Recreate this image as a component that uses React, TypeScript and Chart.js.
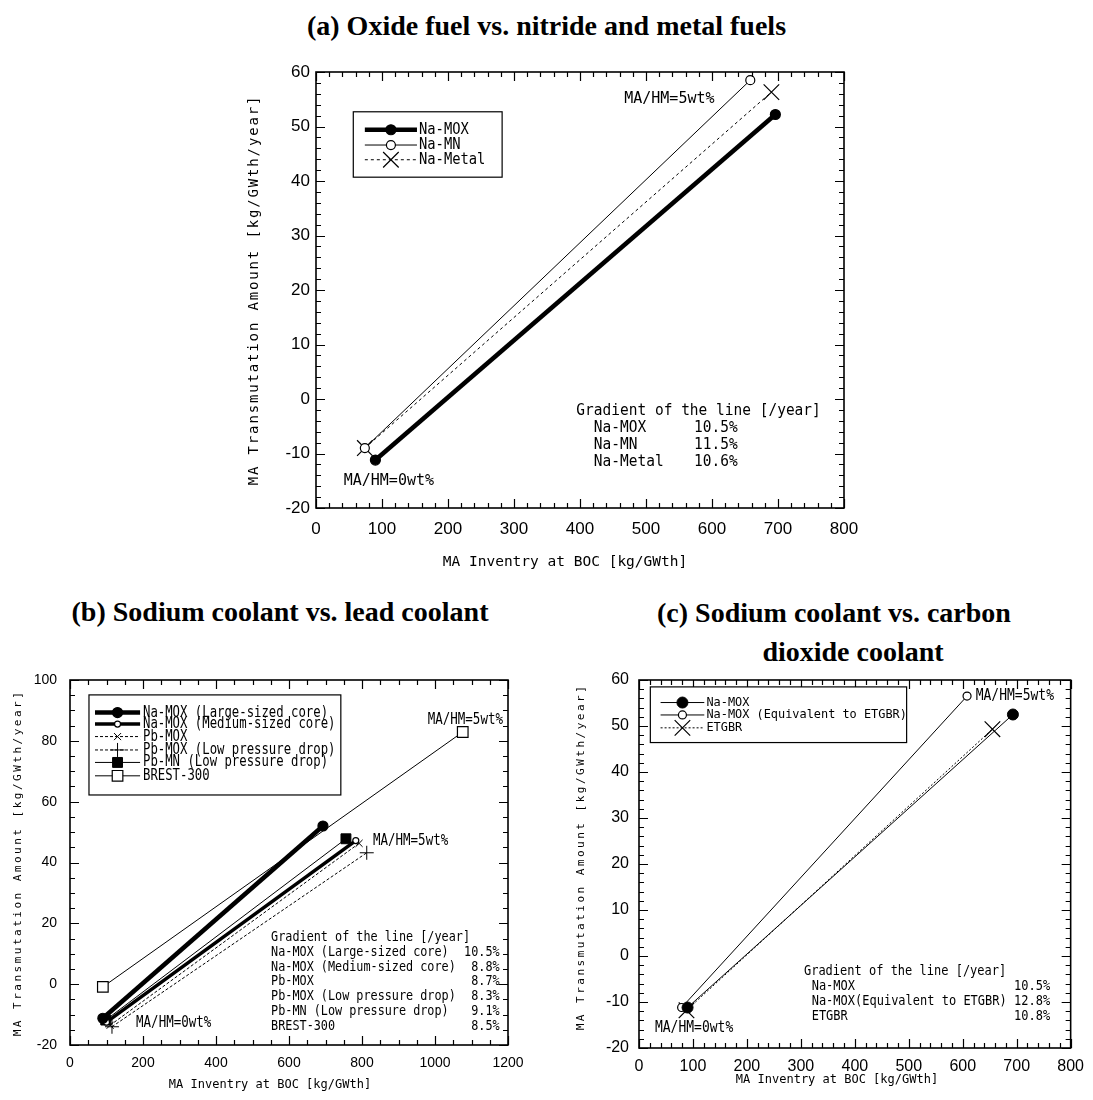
import React, { useEffect, useRef } from 'react';
import { Chart, registerables } from 'chart.js';
import { drawPoint } from 'chart.js/helpers';

Chart.register(...registerables);

const MONO = '"DejaVu Sans Mono", "Liberation Mono", monospace';
const SANS = '"Liberation Sans", Arial, sans-serif';
const SERIF = '"Liberation Serif", "Times New Roman", serif';

// ---------------- (a) Oxide fuel vs. nitride and metal fuels ----------------
const aXTicks = [0, 100, 200, 300, 400, 500, 600, 700, 800];
const aYTicks = [-20, -10, 0, 10, 20, 30, 40, 50, 60];
const aNames = ['Na-MOX', 'Na-MN', 'Na-Metal'];
const aNaMOXx = [90, 696];
const aNaMOXy = [-11.2, 52.2];
const aNaMNx = [74, 658];
const aNaMNy = [-9.0, 58.5];
const aNaMetalx = [74, 690];
const aNaMetaly = [-9.0, 56.3];
const aGradLabels = ['Na-MOX', 'Na-MN', 'Na-Metal'];
const aGradValues = ['10.5%', '11.5%', '10.6%'];
const aNotes = ['MA/HM=5wt%', 'MA/HM=0wt%'];

// ---------------- (b) Sodium coolant vs. lead coolant ----------------
const bXTicks = [0, 200, 400, 600, 800, 1000, 1200];
const bYTicks = [-20, 0, 20, 40, 60, 80, 100];
const bNames = [
  'Na-MOX (Large-sized core)',
  'Na-MOX (Medium-sized core)',
  'Pb-MOX',
  'Pb-MOX (Low pressure drop)',
  'Pb-MN (Low pressure drop)',
  'BREST-300',
];
const bNaMOXLx = [90, 693];
const bNaMOXLy = [-11.2, 52.0];
const bNaMOXMx = [100, 783];
const bNaMOXMy = [-12.5, 47.2];
const bPbMOXx = [110, 792];
const bPbMOXy = [-13.5, 46.3];
const bPbMOXLPx = [115, 813];
const bPbMOXLPy = [-14.0, 43.2];
const bPbMNx = [98, 756];
const bPbMNy = [-11.8, 47.8];
const bBRESTx = [90, 1076];
const bBRESTy = [-0.9, 82.9];
const bGradLabels = bNames;
const bGradValues = ['10.5%', '8.8%', '8.7%', '8.3%', '9.1%', '8.5%'];
const bNotes = ['MA/HM=5wt%', 'MA/HM=5wt%', 'MA/HM=0wt%'];

// ---------------- (c) Sodium coolant vs. carbon dioxide coolant ----------------
const cXTicks = [0, 100, 200, 300, 400, 500, 600, 700, 800];
const cYTicks = [-20, -10, 0, 10, 20, 30, 40, 50, 60];
const cNames = ['Na-MOX', 'Na-MOX (Equivalent to ETGBR)', 'ETGBR'];
const cNaMOXx = [90, 693];
const cNaMOXy = [-11.2, 52.5];
const cNaMOXEqx = [79, 608];
const cNaMOXEqy = [-11.2, 56.5];
const cETGBRx = [88, 655];
const cETGBRy = [-11.8, 49.3];
const cGradLabels = ['Na-MOX', 'Na-MOX(Equivalent to ETGBR)', 'ETGBR'];
const cGradValues = ['10.5%', '12.8%', '10.8%'];
const cNotes = ['MA/HM=5wt%', 'MA/HM=0wt%'];

const Y_TITLE = 'MA Transmutation Amount [kg/GWth/year]';
const X_TITLE = 'MA Inventry at BOC [kg/GWth]';
const GRAD_TITLE = 'Gradient of the line [/year]';

type Style = { width: number; dash: number[]; point: string; radius: number; fill: string; pbw: number };
type Series = { name: string; xs: number[]; ys: number[]; style: Style };
type TextOpt = { size: number; sy?: number; ls?: number; align?: CanvasTextAlign; rot?: number; family?: string };

type Spec = {
  area: { L: number; R: number; T: number; B: number };
  xTicks: number[];
  yTicks: number[];
  xMinor: number;
  yMinor: number;
  tickFont: number;
  xPad: number;
  yPad: number;
  yTitle: { x: number; y: number; size: number; ls: number };
  xTitle: { x: number; y: number; size: number; ls: number };
  notes: { text: string; x: number; y: number }[];
  noteFont: { size: number; sy: number };
  legend: { box: number[]; rows: number[]; sample: number[]; textX: number; size: number; sy: number };
  grad: {
    titleX: number;
    titleY: number;
    labelX: number;
    valueX: number;
    rows: number[];
    labels: string[];
    values: string[];
    size: number;
    sy: number;
  };
  series: Series[];
};

function txt(ctx: CanvasRenderingContext2D, s: string, x: number, y: number, o: TextOpt) {
  ctx.save();
  ctx.translate(x, y);
  if (o.rot) ctx.rotate(o.rot);
  ctx.scale(1, o.sy || 1);
  ctx.font = `${o.size}px ${o.family || MONO}`;
  ctx.textAlign = o.align || 'left';
  ctx.textBaseline = 'middle';
  ctx.fillStyle = '#000';
  (ctx as any).letterSpacing = `${o.ls || 0}px`;
  ctx.fillText(s, 0, 0);
  ctx.restore();
}

function makeDecor(spec: Spec) {
  return {
    id: 'decor',
    afterDraw(chart: any) {
      const ctx = chart.ctx as CanvasRenderingContext2D;
      const xs = chart.scales.x;
      const ys = chart.scales.y;
      const { left, right, top, bottom } = chart.chartArea;
      ctx.save();
      ctx.setLineDash([]);
      ctx.strokeStyle = '#000';

      // inward ticks on all four sides
      ctx.lineWidth = 1.2;
      ctx.beginPath();
      const xt = spec.xTicks;
      const xMajor = xt[1] - xt[0];
      const nx = Math.round((xt[xt.length - 1] - xt[0]) / spec.xMinor);
      for (let i = 0; i <= nx; i++) {
        const v = xt[0] + i * spec.xMinor;
        const p = Math.round(xs.getPixelForValue(v)) + 0.5;
        const r = v / xMajor;
        const len = Math.abs(r - Math.round(r)) < 1e-6 ? 9 : 5;
        ctx.moveTo(p, bottom);
        ctx.lineTo(p, bottom - len);
        ctx.moveTo(p, top);
        ctx.lineTo(p, top + len);
      }
      const yt = spec.yTicks;
      const yMajor = yt[1] - yt[0];
      const ny = Math.round((yt[yt.length - 1] - yt[0]) / spec.yMinor);
      for (let i = 0; i <= ny; i++) {
        const v = yt[0] + i * spec.yMinor;
        const p = Math.round(ys.getPixelForValue(v)) + 0.5;
        const r = v / yMajor;
        const len = Math.abs(r - Math.round(r)) < 1e-6 ? 9 : 5;
        ctx.moveTo(left, p);
        ctx.lineTo(left + len, p);
        ctx.moveTo(right, p);
        ctx.lineTo(right - len, p);
      }
      ctx.stroke();

      // frame
      ctx.lineWidth = 1.6;
      ctx.strokeRect(left, top, right - left, bottom - top);

      // axis titles
      txt(ctx, Y_TITLE, spec.yTitle.x, spec.yTitle.y, {
        size: spec.yTitle.size,
        ls: spec.yTitle.ls,
        align: 'center',
        rot: -Math.PI / 2,
      });
      txt(ctx, X_TITLE, spec.xTitle.x, spec.xTitle.y, {
        size: spec.xTitle.size,
        ls: spec.xTitle.ls,
        align: 'center',
      });

      // annotations
      spec.notes.forEach((n) => {
        txt(ctx, n.text, xs.getPixelForValue(n.x), ys.getPixelForValue(n.y), {
          size: spec.noteFont.size,
          sy: spec.noteFont.sy,
        });
      });

      // gradient block
      const g = spec.grad;
      txt(ctx, GRAD_TITLE, xs.getPixelForValue(g.titleX), ys.getPixelForValue(g.titleY), { size: g.size, sy: g.sy });
      g.rows.forEach((ry, i) => {
        const py = ys.getPixelForValue(ry);
        txt(ctx, g.labels[i], xs.getPixelForValue(g.labelX), py, { size: g.size, sy: g.sy });
        txt(ctx, g.values[i], xs.getPixelForValue(g.valueX), py, { size: g.size, sy: g.sy, align: 'right' });
      });

      // legend
      const lg = spec.legend;
      const bx0 = xs.getPixelForValue(lg.box[0]);
      const bx1 = xs.getPixelForValue(lg.box[1]);
      const by0 = ys.getPixelForValue(lg.box[2]);
      const by1 = ys.getPixelForValue(lg.box[3]);
      ctx.fillStyle = '#fff';
      ctx.fillRect(bx0, by0, bx1 - bx0, by1 - by0);
      ctx.lineWidth = 1.2;
      ctx.strokeStyle = '#000';
      ctx.strokeRect(bx0, by0, bx1 - bx0, by1 - by0);
      spec.series.forEach((s, i) => {
        const py = ys.getPixelForValue(lg.rows[i]);
        const sx0 = xs.getPixelForValue(lg.sample[0]);
        const sx1 = xs.getPixelForValue(lg.sample[1]);
        ctx.save();
        ctx.strokeStyle = '#000';
        ctx.lineWidth = s.style.width;
        ctx.setLineDash(s.style.dash);
        ctx.beginPath();
        ctx.moveTo(sx0, py);
        ctx.lineTo(sx1, py);
        ctx.stroke();
        ctx.setLineDash([]);
        ctx.fillStyle = s.style.fill;
        ctx.strokeStyle = '#000';
        ctx.lineWidth = s.style.pbw;
        drawPoint(
          ctx,
          { pointStyle: s.style.point as any, radius: s.style.radius, rotation: 0, borderWidth: s.style.pbw } as any,
          (sx0 + sx1) / 2,
          py
        );
        ctx.restore();
        txt(ctx, s.name, xs.getPixelForValue(lg.textX), py, { size: lg.size, sy: lg.sy });
      });
      ctx.restore();
    },
  };
}

const YW = 60;
const XH = 40;
const W = 1093;
const H = 1100;

function buildConfig(spec: Spec): any {
  const { L, R, T, B } = spec.area;
  const xt = spec.xTicks;
  const yt = spec.yTicks;
  return {
    type: 'line',
    data: {
      datasets: spec.series.map((s) => ({
        label: s.name,
        data: s.xs.map((x, i) => ({ x, y: s.ys[i] })),
        borderColor: '#000',
        borderWidth: s.style.width,
        borderDash: s.style.dash,
        pointStyle: s.style.point,
        pointRadius: s.style.radius,
        pointBackgroundColor: s.style.fill,
        pointBorderColor: '#000',
        pointBorderWidth: s.style.pbw,
        fill: false,
        tension: 0,
      })),
    },
    options: {
      animation: false,
      responsive: false,
      devicePixelRatio: 1,
      events: [],
      layout: { padding: { left: L - YW, top: T, right: W - R, bottom: H - B - XH } },
      plugins: { legend: { display: false }, tooltip: { enabled: false }, title: { display: false } },
      scales: {
        x: {
          type: 'linear',
          min: xt[0],
          max: xt[xt.length - 1],
          afterFit: (sc: any) => {
            sc.height = XH;
          },
          afterBuildTicks: (sc: any) => {
            sc.ticks = xt.map((v) => ({ value: v }));
          },
          grid: { display: false, drawTicks: false },
          border: { display: false },
          ticks: {
            autoSkip: false,
            maxRotation: 0,
            padding: spec.xPad,
            color: '#000',
            font: { family: SANS, size: spec.tickFont },
            callback: (v: any) => String(v),
          },
        },
        y: {
          type: 'linear',
          min: yt[0],
          max: yt[yt.length - 1],
          afterFit: (sc: any) => {
            sc.width = YW;
          },
          afterBuildTicks: (sc: any) => {
            sc.ticks = yt.map((v) => ({ value: v }));
          },
          grid: { display: false, drawTicks: false },
          border: { display: false },
          ticks: {
            autoSkip: false,
            padding: spec.yPad,
            color: '#000',
            font: { family: SANS, size: spec.tickFont },
            callback: (v: any) => String(v),
          },
        },
      },
    },
    plugins: [makeDecor(spec)],
  };
}

const thick = (fill: string, r: number, w: number): Style => ({ width: w, dash: [], point: 'circle', radius: r, fill, pbw: 1.2 });

const specA: Spec = {
  area: { L: 316, R: 844, T: 72, B: 508 },
  xTicks: aXTicks,
  yTicks: aYTicks,
  xMinor: 20,
  yMinor: 2,
  tickFont: 17,
  xPad: 11,
  yPad: 6,
  yTitle: { x: 254, y: 290, size: 14, ls: 1.85 },
  xTitle: { x: 565, y: 562, size: 14.5, ls: 0 },
  notes: [
    { text: aNotes[0], x: 467, y: 55 },
    { text: aNotes[1], x: 42, y: -15 },
  ],
  noteFont: { size: 15, sy: 1.07 },
  legend: { box: [56.5, 282, 52.7, 40.7], rows: [49.4, 46.6, 43.9], sample: [74, 153], textX: 156, size: 13.8, sy: 1.15 },
  grad: {
    titleX: 394.5,
    titleY: -2.2,
    labelX: 421,
    valueX: 639,
    rows: [-5.4, -8.4, -11.6],
    labels: aGradLabels,
    values: aGradValues,
    size: 14.5,
    sy: 1.05,
  },
  series: [
    { name: aNames[0], xs: aNaMOXx, ys: aNaMOXy, style: thick('#000', 5, 4.5) },
    { name: aNames[1], xs: aNaMNx, ys: aNaMNy, style: { width: 1, dash: [], point: 'circle', radius: 4.5, fill: '#fff', pbw: 1.2 } },
    { name: aNames[2], xs: aNaMetalx, ys: aNaMetaly, style: { width: 1, dash: [3, 3], point: 'crossRot', radius: 11, fill: '#fff', pbw: 1.2 } },
  ],
};

const specB: Spec = {
  area: { L: 70, R: 508, T: 680, B: 1045 },
  xTicks: bXTicks,
  yTicks: bYTicks,
  xMinor: 50,
  yMinor: 5,
  tickFont: 14,
  xPad: 10,
  yPad: 13,
  yTitle: { x: 18, y: 863, size: 11, ls: 2.5 },
  xTitle: { x: 270, y: 1085, size: 12, ls: 0 },
  notes: [
    { text: bNotes[0], x: 980, y: 86.9 },
    { text: bNotes[1], x: 830, y: 47 },
    { text: bNotes[2], x: 181, y: -12.9 },
  ],
  noteFont: { size: 12.5, sy: 1.25 },
  legend: {
    box: [52, 742, 95.1, 62.2],
    rows: [89.3, 85.5, 81.4, 77.0, 72.9, 68.5],
    sample: [68.5, 192],
    textX: 200,
    size: 12.3,
    sy: 1.25,
  },
  grad: {
    titleX: 551,
    titleY: 15.5,
    labelX: 551,
    valueX: 1177,
    rows: [10.6, 5.7, 0.8, -4.1, -9.0, -13.9],
    labels: bGradLabels,
    values: bGradValues,
    size: 11.8,
    sy: 1.2,
  },
  series: [
    { name: bNames[0], xs: bNaMOXLx, ys: bNaMOXLy, style: thick('#000', 5, 4.5) },
    { name: bNames[1], xs: bNaMOXMx, ys: bNaMOXMy, style: thick('#fff', 3, 3.5) },
    { name: bNames[2], xs: bPbMOXx, ys: bPbMOXy, style: { width: 1, dash: [3, 2], point: 'crossRot', radius: 5, fill: '#fff', pbw: 1 } },
    { name: bNames[3], xs: bPbMOXLPx, ys: bPbMOXLPy, style: { width: 1, dash: [3, 2], point: 'cross', radius: 7, fill: '#fff', pbw: 1 } },
    { name: bNames[4], xs: bPbMNx, ys: bPbMNy, style: { width: 1, dash: [], point: 'rect', radius: 7, fill: '#000', pbw: 1 } },
    { name: bNames[5], xs: bBRESTx, ys: bBRESTy, style: { width: 1, dash: [], point: 'rect', radius: 7.5, fill: '#fff', pbw: 1.2 } },
  ],
};

const specC: Spec = {
  area: { L: 639, R: 1077, T: 680, B: 1048 },
  xTicks: cXTicks,
  yTicks: cYTicks,
  xMinor: 20,
  yMinor: 2,
  tickFont: 16,
  xPad: 9,
  yPad: 10,
  yTitle: { x: 581, y: 857, size: 11, ls: 2.5 },
  xTitle: { x: 837, y: 1080, size: 12, ls: 0 },
  notes: [
    { text: cNotes[0], x: 624, y: 56.5 },
    { text: cNotes[1], x: 29.6, y: -15.6 },
  ],
  noteFont: { size: 13, sy: 1.15 },
  legend: { box: [21, 496, 58.5, 46.4], rows: [55.1, 52.4, 49.6], sample: [40, 121], textX: 125, size: 11.9, sy: 1.1 },
  grad: {
    titleX: 305.7,
    titleY: -3.45,
    labelX: 320,
    valueX: 762,
    rows: [-6.7, -9.9, -13.2],
    labels: cGradLabels,
    values: cGradValues,
    size: 12,
    sy: 1.1,
  },
  series: [
    { name: cNames[0], xs: cNaMOXx, ys: cNaMOXy, style: { width: 1, dash: [], point: 'circle', radius: 5.5, fill: '#000', pbw: 1 } },
    { name: cNames[1], xs: cNaMOXEqx, ys: cNaMOXEqy, style: { width: 1, dash: [], point: 'circle', radius: 4, fill: '#fff', pbw: 1.2 } },
    { name: cNames[2], xs: cETGBRx, ys: cETGBRy, style: { width: 1, dash: [2, 2], point: 'crossRot', radius: 11, fill: '#fff', pbw: 1.2 } },
  ],
};

function ChartCanvas({ spec }: { spec: Spec }) {
  const ref = useRef<HTMLCanvasElement | null>(null);
  useEffect(() => {
    if (!ref.current) return;
    const chart = new Chart(ref.current, buildConfig(spec));
    return () => chart.destroy();
  }, [spec]);
  return (
    <canvas
      ref={ref}
      width={W}
      height={H}
      style={{ position: 'absolute', left: 0, top: 0, width: W, height: H, pointerEvents: 'none' }}
    />
  );
}

const titleStyle: React.CSSProperties = {
  position: 'absolute',
  fontFamily: SERIF,
  fontWeight: 'bold',
  fontSize: 28,
  lineHeight: '32px',
  textAlign: 'center',
  whiteSpace: 'nowrap',
  color: '#000',
};

export default function App() {
  return (
    <div style={{ position: 'absolute', left: 0, top: 0, width: W, height: H, background: '#fff', overflow: 'hidden' }}>
      <div style={{ ...titleStyle, left: 0, width: W, top: 10 }}>(a) Oxide fuel vs. nitride and metal fuels</div>
      <div style={{ ...titleStyle, left: 0, width: 560, top: 596 }}>(b) Sodium coolant vs. lead coolant</div>
      <div style={{ ...titleStyle, left: 534, width: 600, top: 597 }}>(c) Sodium coolant vs. carbon</div>
      <div style={{ ...titleStyle, left: 553, width: 600, top: 636 }}>dioxide coolant</div>
      <ChartCanvas spec={specA} />
      <ChartCanvas spec={specB} />
      <ChartCanvas spec={specC} />
    </div>
  );
}
